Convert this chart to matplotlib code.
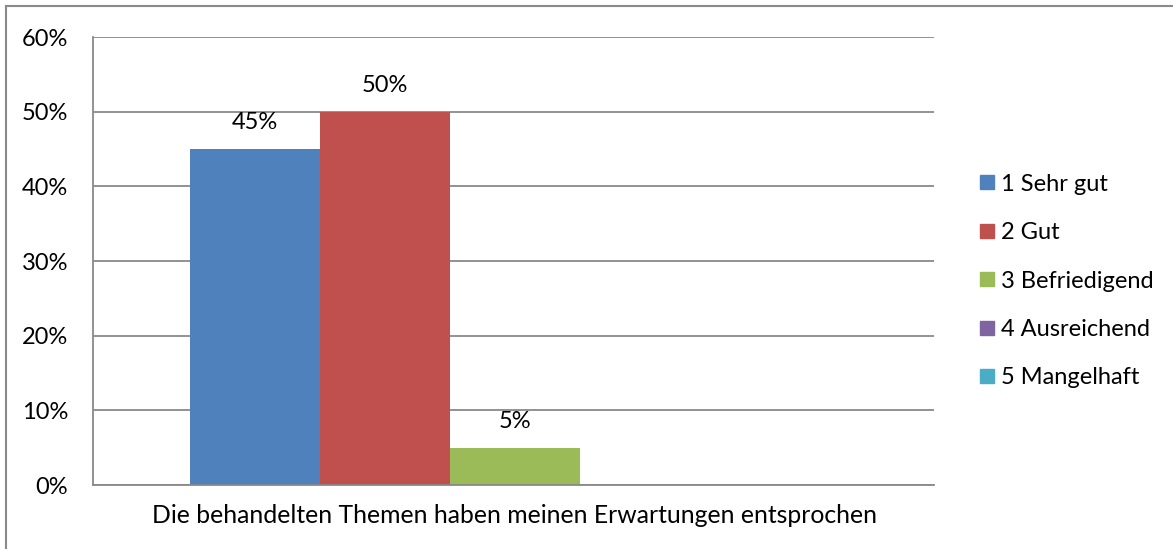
import numpy as np
import matplotlib.pyplot as plt
from matplotlib.lines import Line2D

plt.rcParams['font.family'] = ['Lato', 'DejaVu Sans']

category = 'Die behandelten Themen haben meinen Erwartungen entsprochen'
series = ['1 Sehr gut', '2 Gut', '3 Befriedigend', '4 Ausreichend', '5 Mangelhaft']
values = [45, 50, 5, 0, 0]
colors = ['#4F81BD', '#C0504D', '#9BBB59', '#8064A2', '#4BACC6']
yticks = [0, 10, 20, 30, 40, 50, 60]

grid_color = '#898989'
fs = 17

fig = plt.figure(figsize=(11.73, 5.49), dpi=100)
ax = fig.add_axes([93 / 1173, 64 / 549, 841 / 1173, 448 / 549])

offsets = np.arange(len(series)) - (len(series) - 1) / 2
for off, name, val, col in zip(offsets, series, values, colors):
    ax.bar(off, val, width=1.0, color=col, label=name, zorder=3)
    if val > 0:
        ax.annotate(f'{val}%', (off, val), xytext=(0, 19), textcoords='offset points',
                    ha='center', va='center', fontsize=fs, color='black')

ax.set_xlim(-3.246, 3.223)
ax.set_ylim(0, 60)
ax.set_yticks(yticks)
ax.set_yticklabels([f'{t}%' for t in yticks])
ax.set_xticks([0])
ax.set_xticklabels([category])
ax.tick_params(axis='y', length=0, pad=18, labelsize=fs)
ax.tick_params(axis='x', length=0, pad=14, labelsize=17.8)
ax.yaxis.grid(True, color=grid_color, linewidth=1.3, zorder=0)
for s in ['top', 'right']:
    ax.spines[s].set_visible(False)
for s in ['left', 'bottom']:
    ax.spines[s].set_color(grid_color)
    ax.spines[s].set_linewidth(1.3)
    ax.spines[s].set_zorder(4)

handles = [Line2D([], [], marker='s', linestyle='none', markersize=10.5,
                  markerfacecolor=c, markeredgecolor=c) for c in colors]
fig.legend(handles, series, loc='center left', bbox_to_anchor=(970 / 1173, 268 / 549),
           frameon=False, fontsize=fs, handlelength=0.65, handletextpad=0.25,
           labelspacing=1.16, borderaxespad=0)

# outer chart frame (only top and left edges visible)
fig.add_artist(Line2D([5.5 / 1173, 5.5 / 1173], [0, 543 / 549], transform=fig.transFigure,
                      color='#8a8a8a', linewidth=1.5))
fig.add_artist(Line2D([5.5 / 1173, 1], [543 / 549, 543 / 549], transform=fig.transFigure,
                      color='#8a8a8a', linewidth=1.5))

fig.savefig('out.png', dpi=100, facecolor='white')
